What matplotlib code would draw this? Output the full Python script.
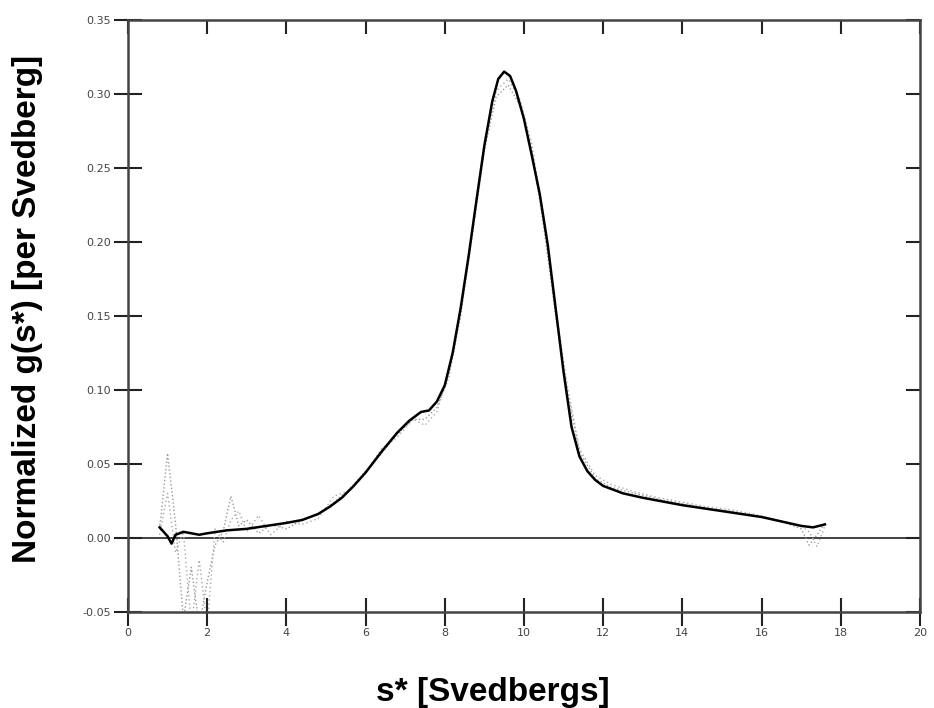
import matplotlib
matplotlib.use("Agg")
import matplotlib.pyplot as plt
from matplotlib.markers import TICKDOWN, TICKLEFT

# fitted g(s*) curve (solid black)
fit_s = [0.8, 0.9, 1.0, 1.1, 1.2, 1.4, 1.6, 1.8, 2.0, 2.5, 3.0, 3.5, 4.0, 4.4, 4.8,
         5.1, 5.4, 5.7, 6.0, 6.4, 6.8, 7.1, 7.4, 7.6, 7.8, 8.0, 8.2, 8.4, 8.6, 8.8,
         9.0, 9.2, 9.35, 9.5, 9.65, 9.8, 10.0, 10.2, 10.4, 10.6, 10.8, 11.0, 11.2,
         11.4, 11.6, 11.8, 12.0, 12.5, 13.0, 14.0, 15.0, 16.0, 17.0, 17.3, 17.6]
fit_g = [0.007, 0.004, 0.001, -0.004, 0.002, 0.004, 0.003, 0.002, 0.003, 0.005, 0.006,
         0.008, 0.010, 0.012, 0.016, 0.021, 0.027, 0.035, 0.044, 0.058, 0.071, 0.079,
         0.085, 0.086, 0.092, 0.103, 0.125, 0.155, 0.190, 0.228, 0.265, 0.295, 0.310,
         0.315, 0.312, 0.302, 0.283, 0.258, 0.232, 0.198, 0.155, 0.112, 0.075, 0.055,
         0.045, 0.039, 0.035, 0.030, 0.027, 0.022, 0.018, 0.014, 0.008, 0.007, 0.009]

# raw data scans (grey dotted)
data_s = [0.8, 1.0, 1.2, 1.4, 1.6, 1.8, 2.0, 2.2, 2.4, 2.6, 2.8, 3.0, 3.3, 3.6, 4.0,
          4.4, 4.8, 5.2, 5.6, 6.0, 6.4, 6.8, 7.2, 7.5, 7.8, 8.1, 8.4, 8.7, 9.0, 9.3,
          9.6, 9.9, 10.2, 10.5, 10.8, 11.1, 11.4, 11.8, 12.2, 12.8, 13.4, 14.0, 14.6,
          15.2, 15.8, 16.4, 17.0, 17.2, 17.4, 17.6]
scan_a = [0.006, 0.057, 0.010, -0.055, -0.020, -0.060, -0.030, -0.005, 0.004, 0.028,
          0.008, 0.012, 0.003, 0.009, 0.006, 0.012, 0.016, 0.024, 0.033, 0.045, 0.057,
          0.070, 0.080, 0.080, 0.088, 0.108, 0.150, 0.205, 0.262, 0.298, 0.306, 0.292,
          0.262, 0.210, 0.150, 0.098, 0.058, 0.040, 0.034, 0.030, 0.026, 0.023, 0.020,
          0.018, 0.015, 0.012, 0.006, -0.005, 0.002, 0.010]
scan_b = [0.002, 0.030, -0.010, 0.004, -0.060, -0.015, -0.060, 0.006, -0.003, 0.012,
          0.018, 0.004, 0.015, 0.002, 0.011, 0.009, 0.013, 0.028, 0.032, 0.044, 0.060,
          0.068, 0.080, 0.076, 0.085, 0.112, 0.152, 0.210, 0.268, 0.302, 0.310, 0.296,
          0.266, 0.215, 0.155, 0.102, 0.060, 0.042, 0.036, 0.031, 0.027, 0.024, 0.021,
          0.019, 0.016, 0.012, 0.008, 0.004, -0.006, 0.008]

x_ticks = [0, 2, 4, 6, 8, 10, 12, 14, 16, 18, 20]
y_ticks = [-0.05, 0.00, 0.05, 0.10, 0.15, 0.20, 0.25, 0.30, 0.35]

fig = plt.figure(figsize=(9.34, 7.08), dpi=100)
ax = fig.add_axes([0.137, 0.136, 0.848, 0.836])

ax.axhline(0, color="#333333", lw=1.3, zorder=1)
ax.plot(data_s, scan_a, color="#999999", lw=1.0, ls=":", zorder=2)
ax.plot(data_s, scan_b, color="#aaaaaa", lw=1.0, ls=(0, (1, 2)), zorder=2)
ax.plot(fit_s, fit_g, color="black", lw=1.8, zorder=3)

ax.set_xlim(0, 20)
ax.set_ylim(-0.05, 0.35)
ax.set_xticks(x_ticks)
ax.set_yticks(y_ticks)
ax.set_xticklabels([str(t) for t in x_ticks])
ax.set_yticklabels(["%.2f" % t for t in y_ticks])
ax.tick_params(direction="inout", length=20, width=1.5, color="#222222",
               labelsize=8, labelcolor="#444444", pad=2, top=True, right=True)
# top/right ticks only point inward
for t in ax.xaxis.get_major_ticks():
    t.tick2line.set_marker(TICKDOWN)
    t.tick2line.set_markersize(10)
for t in ax.yaxis.get_major_ticks():
    t.tick2line.set_marker(TICKLEFT)
    t.tick2line.set_markersize(10)
for sp in ax.spines.values():
    sp.set_linewidth(1.8)
    sp.set_color("#444444")

ax.set_xlabel("s* [Svedbergs]", fontsize=24, fontweight="bold",
              family="Liberation Sans")
ax.set_ylabel("Normalized g(s*) [per Svedberg]", fontsize=24, fontweight="bold",
              family="Liberation Sans")
ax.xaxis.set_label_coords(0.461, -0.111)
ax.yaxis.set_label_coords(-0.107, 0.512)

fig.savefig("out.png", dpi=100)
